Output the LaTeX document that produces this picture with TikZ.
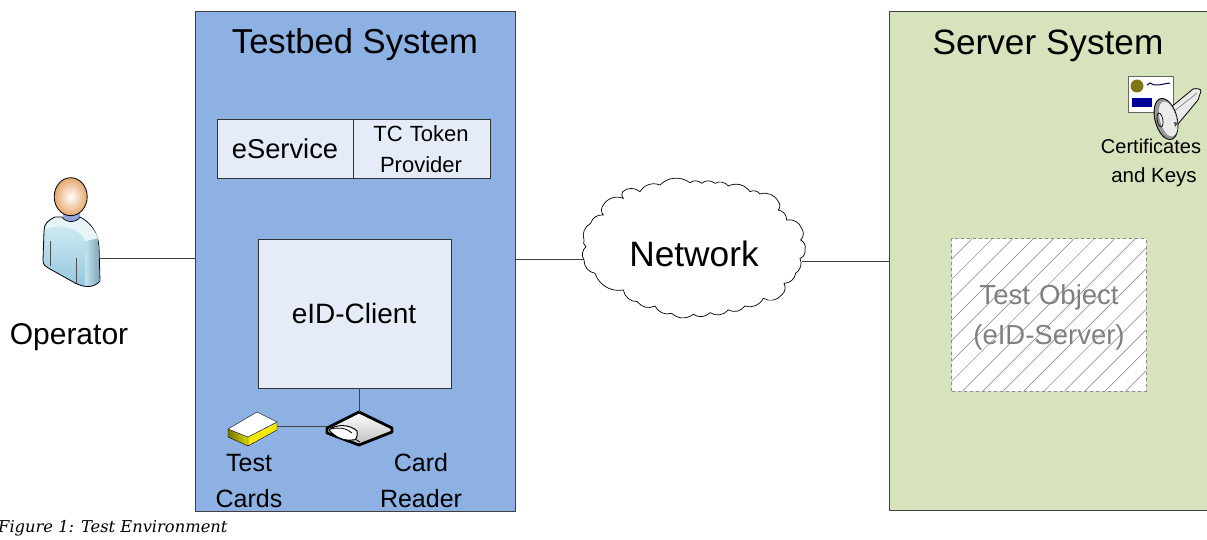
\documentclass[tikz,border=0pt]{standalone}
\usepackage{fontspec}
\setmainfont{Liberation Sans}
\newfontfamily\capfont{DejaVu Serif}
\usepackage{xcolor}
\usetikzlibrary{positioning}
\definecolor{testbedblue}{HTML}{8DB1E3}
\definecolor{serverGreen}{HTML}{D7E3BC}
\definecolor{clientblue}{HTML}{E6ECF7}
\definecolor{edgegray}{HTML}{404040}
\definecolor{shirtlight}{HTML}{D8EFF4}
\definecolor{shirtdark}{HTML}{93C6DE}
\definecolor{skin}{HTML}{E6A76C}
\tikzset{
  system/.style={draw=edgegray,inner sep=0pt},
  inner/.style={draw=black!80,fill=clientblue,inner sep=0pt},
  label/.style={inner sep=0pt,align=center,font=\fontsize{#1}{#1}\selectfont},
  link/.style={draw=black!75,line width=0.8pt}
}
\begin{document}
\begin{tikzpicture}[x=1pt,y=-1pt]
  \useasboundingbox (0,0) rectangle (1207,540);

  % systems
  \node[system,fill=testbedblue,minimum width=320pt,minimum height=500pt] (testbed) at (355,261) {};
  \node[system,fill=serverGreen,minimum width=320pt,minimum height=499pt] (server) at (1049,260.5) {};
  \node[label=34.6] (testbedtitle) at (355,45) {Testbed System};
  \node[label=35.2] (servertitle) at (1048,46) {Server System};

  % testbed contents
  \node[inner,minimum width=136pt,minimum height=59pt] (eservice) at (285,148.5) {};
  \node[inner,minimum width=137pt,minimum height=59pt] (provider) at (421.5,148.5) {};
  \node[label=27.3] (eservicetext) at (285,149) {eService};
  \node[label=22,text width=130pt] (providertext) at (421,149) {TC Token\\[9pt]Provider};
  \node[inner,minimum width=193pt,minimum height=149pt] (client) at (354.5,313.5) {};
  \node[label=28] (clienttext) at (354,313) {eID-Client};

  % card reader
  \coordinate (reader) at (359,429);
  \shade[top color=white,bottom color=black!25] (359,412) -- (392,428) -- (392,432) -- (359,445) -- (327,435) -- (327,428) -- cycle;
  \draw[line width=2.8pt,line join=round] (359,412) -- (392,428) -- (392,432) -- (359,445) -- (327,433) -- (327,428) -- cycle;
  \draw[line width=1pt,fill=white] (329,430) .. controls (335,424) and (350,424) .. (357,431) .. controls (358,437) and (356,441) .. (352,440) .. controls (343,441) and (335,437) .. (329,430) -- cycle;
  \draw[line width=0.8pt] (331,429) .. controls (338,427) and (347,428) .. (352,433);
  \draw[line width=0.8pt] (355,439) -- (360,442);

  % test cards
  \coordinate (cards) at (253,426);
  \fill[yellow!95!black] (248,437) -- (277,423) -- (277,430) -- (248,446) -- cycle;
  \shade[left color=olive!90!black,right color=yellow!70!olive] (228,429) -- (248,437) -- (248,446) -- (228,437) -- cycle;
  \draw[fill=white,line join=round] (228,429) -- (257,412) -- (277,422) -- (248,437) -- cycle;
  \draw[line join=round] (228,429) -- (228,437) -- (248,446) -- (277,430) -- (277,422) (248,437) -- (248,446);
  \node[label=25,text width=80pt] (cardstext) at (249,481) {Test\\[11pt]Cards};
  \node[label=25,text width=90pt] (readertext) at (421,481) {Card\\[11pt]Reader};
  \draw[link] (client.south -| reader) -- (reader |- 0,412);
  \draw[link] (277,426) -- (327,426);

  % operator
  \coordinate (operator) at (100,258);
  \fill[cyan!40!blue!45] (63,212) -- (80,212) -- (80,226) -- (63,226) -- cycle;
  \shade[top color=shirtlight,bottom color=shirtdark,draw=black,line width=0.8pt]
    (55,217) .. controls (47,221) and (44,224) .. (44,231) -- (43,260) .. controls (43,265) and (45,266) .. (50,269)
    -- (75,283) .. controls (85,288) and (94,288) .. (100,281) -- (99,247) .. controls (98,232) and (90,222) .. (80,217) .. controls (78,222) and (66,224) .. (62,217) -- cycle;
  \shade[left color=shirtlight!70!shirtdark,right color=shirtdark!85!black] (86,241) -- (98,238) -- (99.5,280) .. controls (96,284) and (90,286) .. (85,286) -- cycle;
  \fill[shirtlight!60!white] (45,229) .. controls (47,224) and (50,221) .. (55.5,218) -- (62,218) .. controls (66,224) and (78,223) .. (80,218) .. controls (88,222) and (95,230) .. (98,238) -- (86,241) .. controls (80,230) and (65,222) .. (45,229) -- cycle;
  \draw[black!70,line width=0.4pt] (50,241) -- (50,266) (76,258) -- (76,283);
  \shade[inner color=white,outer color=skin,draw=black,line width=0.8pt] (70.7,196.7) ellipse (16.5 and 19);
  \node[label=30] (operatortext) at (69,337) {Operator};
  \draw[link] (operator) -- (operator -| testbed.west);

  % network
  \begin{scope}[shift={(560,170)},x=0.3333pt,y=-0.3333pt]
    \draw[fill=white,line width=0.7pt] (72,270) \foreach \px/\py in {78/230,72/210,92/160,130/135,130/105,190/85,188/65,240/65,300/45,390/38,425/40,465/40,505/48,570/65,600/72,655/95,655/120,680/150,725/175,722/210,735/240,720/265,707/310,672/340,665/375,610/385,555/408,505/420,450/428,400/433,335/430,285/408,232/395,190/360,105/310,72/270} { to[bend left=40] (\px,\py) };
  \end{scope}
  \node[label=35.3] (network) at (694,254) {Network};
  \coordinate (netin) at (584,259);
  \coordinate (netout) at (802,261);
  \draw[link] (netin -| testbed.east) -- (netin);
  \draw[link] (netout) -- (netout -| server.west);

  % test object
  \node[draw=none,fill=white,minimum width=194pt,minimum height=152pt,inner sep=0pt] (object) at (1049,315) {};
  \begin{scope}
    \clip (object.south west) rectangle (object.north east);
    \foreach \x in {971.7,992.1,...,1300}
      \draw[black!50,line width=0.5pt] (\x,239) -- ++(-152,152);
  \end{scope}
  \draw[dashed,black!45,line width=0.9pt] (object.south west) rectangle (object.north east);
  \node[label=27.5,text=black!50,text width=190pt] (objecttext) at (1049,317.5) {Test Object\\[12pt](eID-Server)};

  % certificate and key
  \draw[black!60,fill=white,line width=0.6pt] (1128,76) rectangle (1173,112);
  \fill[olive!85!black] (1137,86) circle (6.5);
  \fill[blue!60!black] (1132,98) rectangle (1152,107);
  \draw[black!70!blue,line width=1pt] (1147,85) -- (1150,83) -- (1154,85) -- (1159,85) -- (1164,84) -- (1170,83);
  \draw[black,fill=black!8,line width=0.8pt,line join=round]
    (1170,108) -- (1193,89) .. controls (1197,88) and (1201,89) .. (1201,91) -- (1198,100) -- (1178,124) -- (1163,137) -- cycle;
  \draw[black!60,line width=0.5pt] (1172,113) -- (1197,93);
  \draw[black,fill=black!40,line width=0.9pt,rotate around={15:(1166,119)}] (1166,119) ellipse (11 and 21);
  \draw[black!50,fill=black!8,line width=0.4pt,rotate around={15:(1168,119)}] (1168,119) ellipse (8.5 and 18.5);
  \draw[black,line width=0.7pt,rotate around={10:(1160,120)}] (1160,120) ellipse (2.8 and 7);
  \fill[black!70] (1174,122) -- (1178,123) -- (1175,127) -- cycle;
  \node[label=20] (certtext) at (1151,146) {Certificates};
  \node[label=20.5] (keystext) at (1154,177) {and Keys};

  % caption
  \node[anchor=base west,inner sep=0pt,font=\capfont\itshape\fontsize{16.3}{16.3}\selectfont] (caption) at (-2,532) {Figure 1: Test Environment};
\end{tikzpicture}
\end{document}
